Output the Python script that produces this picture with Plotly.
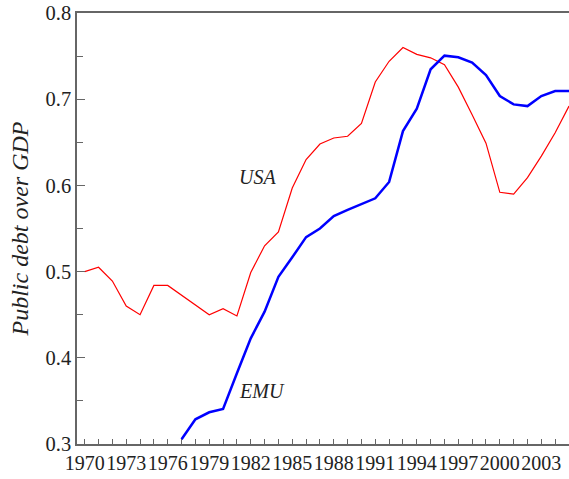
import plotly.graph_objects as go

years_usa = list(range(1970, 2006))
usa = [0.500, 0.505, 0.489, 0.460, 0.450, 0.484, 0.484, 0.473, 0.461, 0.450,
       0.457, 0.4485, 0.499, 0.530, 0.546, 0.597, 0.630, 0.648, 0.655, 0.657,
       0.672, 0.720, 0.744, 0.760, 0.752, 0.748, 0.740, 0.714, 0.682, 0.649,
       0.592, 0.590, 0.609, 0.634, 0.661, 0.692]

years_emu = list(range(1977, 2006))
emu = [0.3055, 0.3287, 0.3368, 0.3406, 0.382, 0.4226, 0.4535, 0.494, 0.5166,
       0.540, 0.550, 0.5645, 0.5715, 0.5784, 0.585, 0.604, 0.663, 0.689,
       0.7347, 0.7505, 0.7486, 0.7424, 0.728, 0.7037, 0.694, 0.692, 0.7037,
       0.7095, 0.7095]

FONT = "Times New Roman, Liberation Serif, serif"
AXC = "#666666"

fig = go.Figure()
fig.add_trace(go.Scatter(x=years_usa, y=usa, mode="lines", name="USA",
                         line=dict(color="#ff0000", width=1.2)))
fig.add_trace(go.Scatter(x=years_emu, y=emu, mode="lines", name="EMU",
                         line=dict(color="#0000ff", width=2.5)))

fig.add_annotation(x=1982.5, y=0.61, text="<i>USA</i>", showarrow=False,
                   font=dict(family=FONT, size=20, color="#222"))
fig.add_annotation(x=1982.8, y=0.3615, text="<i>EMU</i>", showarrow=False,
                   font=dict(family=FONT, size=20, color="#222"))

fig.update_layout(
    width=569, height=479,
    margin=dict(l=77, r=0, t=13, b=35),
    paper_bgcolor="white", plot_bgcolor="white",
    showlegend=False,
    font=dict(family=FONT, size=20, color="#222"),
    xaxis=dict(range=[1969.443, 2005], showgrid=False, zeroline=False,
               showline=True, linecolor=AXC, linewidth=1.5, mirror=True,
               ticks="inside", ticklen=5, tickcolor=AXC, tickwidth=1,
               tick0=1970, dtick=3, tickangle=0, automargin=False,
               minor=dict(dtick=1, ticks="inside", ticklen=5, tickcolor=AXC, tickwidth=1),
               tickfont=dict(family=FONT, size=20, color="#222")),
    yaxis=dict(range=[0.3, 0.8], showgrid=False, zeroline=False,
               showline=True, linecolor=AXC, linewidth=1.5, automargin=False,
               ticks="inside", ticklen=8, tickcolor=AXC, tickwidth=1,
               tick0=0.3, dtick=0.1, tickformat=".1f",
               minor=dict(dtick=0.05, ticks="inside", ticklen=6, tickcolor=AXC, tickwidth=1),
               tickfont=dict(family=FONT, size=20.5, color="#222"),
               title=dict(text="<i>Public debt over GDP</i>",
                          font=dict(family=FONT, size=24, color="#222"),
                          standoff=10)),
)

fig.write_html("out.html")
